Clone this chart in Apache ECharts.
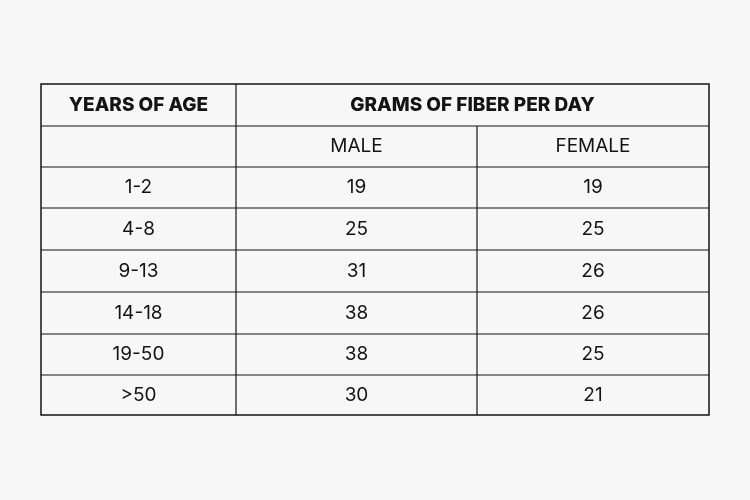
<!DOCTYPE html>
<html>
<head>
<meta charset="utf-8">
<script src="https://cdn.jsdelivr.net/npm/echarts@6/dist/echarts.min.js"></script>
<style>
  html, body { margin: 0; padding: 0; background: #f7f7f7; }
  #chart { width: 750px; height: 500px; }
</style>
</head>
<body>
<div id="chart"></div>
<script>
const headerLeft = 'YEARS OF AGE';
const headerRight = 'GRAMS OF FIBER PER DAY';
const subHeaders = ['MALE', 'FEMALE'];
const ages = ['1-2', '4-8', '9-13', '14-18', '19-50', '>50'];
const male = [19, 25, 31, 38, 38, 30];
const female = [19, 25, 26, 26, 25, 21];

const chart = echarts.init(document.getElementById('chart'));

// layout
const colX = [41, 236, 477, 709];
const rowY = [84, 126, 167, 208, 250, 292, 334, 375, 415];
const font = 'Inter, "Open Sans", sans-serif';
const ink = '#141414';

const elements = [];
function line(x1, y1, x2, y2) {
  elements.push({ type: 'line', shape: { x1, y1, x2, y2 }, style: { stroke: ink, lineWidth: 1.2 } });
}
function text(str, x1, x2, y1, y2, bold) {
  elements.push({
    type: 'text',
    x: (x1 + x2) / 2, y: (y1 + y2) / 2,
    style: {
      text: str, fill: ink, align: 'center', verticalAlign: 'middle',
      font: (bold ? '800 ' : '400 ') + '19px ' + font
    }
  });
}

// outer border and grid lines
elements.push({
  type: 'rect',
  shape: { x: colX[0], y: rowY[0], width: colX[3] - colX[0], height: rowY[rowY.length - 1] - rowY[0] },
  style: { fill: 'none', stroke: ink, lineWidth: 1.5 }
});
for (let i = 1; i < rowY.length - 1; i++) {
  line(i === 1 ? colX[1] : colX[0], rowY[i], colX[3], rowY[i]);
}
line(colX[0], rowY[1], colX[1], rowY[1]);
line(colX[1], rowY[0], colX[1], rowY[rowY.length - 1]);
line(colX[2], rowY[1], colX[2], rowY[rowY.length - 1]);

text(headerLeft, colX[0], colX[1], rowY[0], rowY[1], true);
text(headerRight, colX[1], colX[3], rowY[0], rowY[1], true);
text(subHeaders[0], colX[1], colX[2], rowY[1], rowY[2], false);
text(subHeaders[1], colX[2], colX[3], rowY[1], rowY[2], false);

ages.forEach((age, i) => {
  const y1 = rowY[i + 2], y2 = rowY[i + 3];
  text(age, colX[0], colX[1], y1, y2, false);
  text(String(male[i]), colX[1], colX[2], y1, y2, false);
  text(String(female[i]), colX[2], colX[3], y1, y2, false);
});

chart.setOption({
  backgroundColor: '#f7f7f7',
  graphic: { elements }
});
</script>
</body>
</html>
